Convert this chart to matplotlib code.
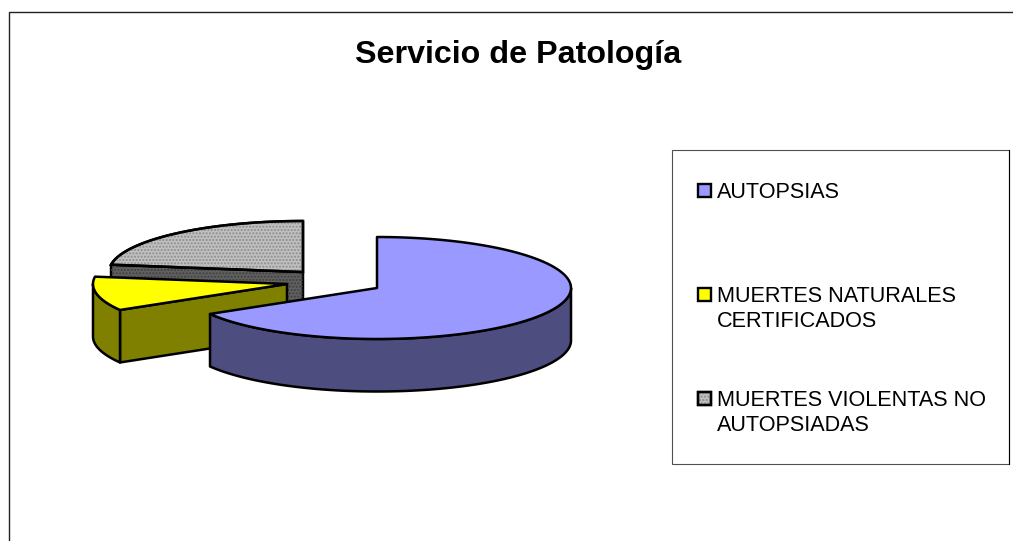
import numpy as np
import matplotlib
matplotlib.use("Agg")
import matplotlib.pyplot as plt
from matplotlib.patches import Polygon, Rectangle

plt.rcParams['font.family'] = ['Liberation Sans', 'DejaVu Sans']
plt.rcParams['hatch.linewidth'] = 1.0

title = "Servicio de Patología"
categories = ["AUTOPSIAS", "MUERTES NATURALES\nCERTIFICADOS", "MUERTES VIOLENTAS NO\nAUTOPSIADAS"]
values = [66.5, 10.8, 22.7]
top_colors = ["#9999FF", "#FFFF00", "#C0C0C0"]
side_colors = ["#4D4D80", "#808000", "#606060"]
hatches = [None, None, "....."]

W, H = 1013, 541
fig = plt.figure(figsize=(W / 100, H / 100), dpi=100)
ax = fig.add_axes([0, 0, 1, 1])
ax.set_xlim(0, W)
ax.set_ylim(H, 0)
ax.axis("off")

A, B, DEPTH = 194, 51, 52.5
centers = [(377, 288), (287, 284), (303, 272)]
LW = 1.8

def arc(c, t0, t1, n=120):
    t = np.radians(np.linspace(t0, t1, n))
    return np.column_stack([c[0] + A * np.cos(t), c[1] - B * np.sin(t)])

# angles: clockwise from 12 o'clock, in ellipse parameter degrees
fracs = np.array(values) / sum(values) * 360
starts = 90 - np.concatenate([[0], np.cumsum(fracs)[:-1]])
ends = starts - fracs

def draw_slice(i, z):
    c = centers[i]
    t0, t1 = starts[i], ends[i]
    kw = dict(edgecolor="black", linewidth=LW, joinstyle="round", zorder=z)
    fc = side_colors[i]
    # front-facing cut through the end radius
    for ang in (t0, t1):
        p = arc(c, ang, ang, 1)[0]
        # visible when the wedge lies above the radius on screen
        mid = np.radians((t0 + t1) / 2)
        nx = p[0] - c[0]
        ny = p[1] - c[1]
        mx, my = A * np.cos(mid), -B * np.sin(mid)
        cross = nx * my - ny * mx
        if (nx < 0 and cross > 0) or (nx > 0 and cross < 0):
            ax.add_patch(Polygon([c, p, (p[0], p[1] + DEPTH), (c[0], c[1] + DEPTH)],
                                 facecolor=fc, **kw))
            if hatches[i]:
                ax.add_patch(Polygon([c, p, (p[0], p[1] + DEPTH), (c[0], c[1] + DEPTH)],
                                     facecolor="none", edgecolor="#404040", hatch=hatches[i],
                                     linewidth=0, zorder=z))
    # outer wall (lower half of the rim only)
    lo, hi = max(t1, -180), min(t0, 0)
    if t1 < 0 and lo < hi:
        rim = arc(c, hi, lo)
        wall = np.vstack([rim, (rim + [0, DEPTH])[::-1]])
        ax.add_patch(Polygon(wall, facecolor=fc, **kw))
    # top face
    top = np.vstack([[c], arc(c, t0, t1)])
    ax.add_patch(Polygon(top, facecolor=top_colors[i], **kw))
    if hatches[i]:
        ax.add_patch(Polygon(top, facecolor="none", edgecolor="#8C8C8C", hatch=hatches[i],
                             linewidth=0, zorder=z))
        ax.add_patch(Polygon(top, facecolor="none", edgecolor="black", linewidth=LW, zorder=z))

for z, i in enumerate([2, 1, 0], start=2):
    draw_slice(i, z)

# chart frame, cut off at the image's right and bottom
ax.plot([9, 9, W + 5], [H + 5, 12, 12], color="#222222", lw=1.0, zorder=1, solid_joinstyle="miter")

ax.text(518.5, 55, title, ha="center", va="center", fontsize=23.2, fontweight="bold")

# legend
ax.add_patch(Rectangle((672, 150), 337, 314, facecolor="white", edgecolor="#505050", lw=0.8, zorder=10))
ax.plot([1008.5, 1008.5], [150, 464], color="black", lw=0.8, zorder=10)
leg_y = [190, 294, 398]
for lab, y, col, h in zip(categories, leg_y, top_colors, hatches):
    ax.add_patch(Rectangle((698, y - 6.5), 13, 13, facecolor=col, edgecolor="black", lw=1.7, zorder=11))
    if h:
        ax.add_patch(Rectangle((698, y - 6.5), 13, 13, facecolor="none", edgecolor="#8C8C8C", hatch=h, lw=0, zorder=11))
        ax.add_patch(Rectangle((698, y - 6.5), 13, 13, facecolor="none", edgecolor="black", lw=1.7, zorder=11))
    for k, line in enumerate(lab.split("\n")):
        ax.text(717, y + 2.5 + 25 * k, line, ha="left", va="center", fontsize=15.55, zorder=12)

fig.savefig("out.png", dpi=100)
